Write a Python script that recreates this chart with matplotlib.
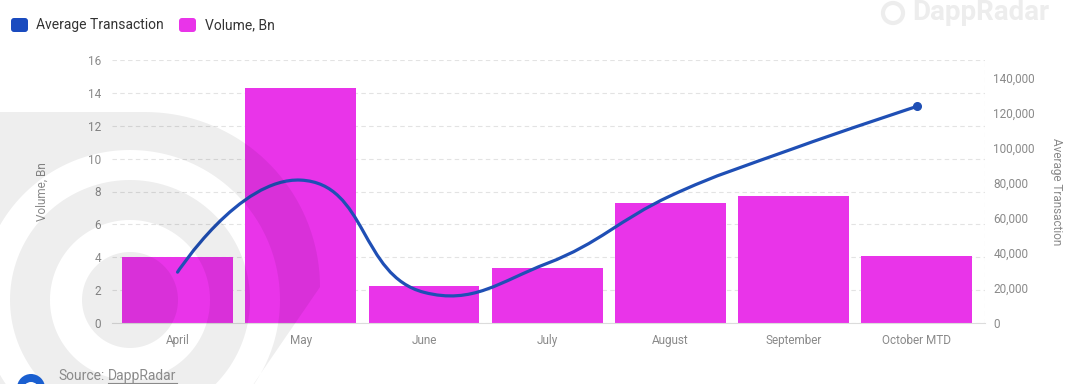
import numpy as np
import matplotlib
matplotlib.use("Agg")
import matplotlib.pyplot as plt
from matplotlib.path import Path
from matplotlib.patches import PathPatch, FancyBboxPatch, Wedge, Circle
from matplotlib.ticker import FuncFormatter

plt.rcParams['font.family'] = ['Roboto', 'DejaVu Sans']

# data
months = ["April", "May", "June", "July", "August", "September", "October MTD"]
volume_bn = [4.0, 14.3, 2.25, 3.35, 7.3, 7.7, 4.05]
avg_transaction = [29000, 81500, 17500, 34000, 72500, 99500, 123500]

BAR_COLOR = "#e934e9"
LINE_COLOR = "#1f4fb5"
GRID_COLOR = "#e3e3e3"
TEXT_GRAY = "#8a8a8a"

W, H = 1088, 384
fig = plt.figure(figsize=(W / 100, H / 100), dpi=100)

# plot area in pixels: x 112..985, y 60..323 (from top)
ax = fig.add_axes([112 / W, (H - 323) / H, (985 - 112) / W, (323 - 60) / H])
ax2 = ax.twinx()

x = np.arange(len(months))
ax.bar(x, volume_bn, width=0.9, color=BAR_COLOR, zorder=2)
ax.set_xlim(-0.532, 6.554)
ax.set_ylim(0, 16)
ax.set_yticks(range(0, 17, 2))
ax.set_xticks(x)
ax.set_xticklabels(months)
ax.grid(axis="y", color=GRID_COLOR, linestyle=(0, (4, 3)), linewidth=0.8, zorder=0)
ax.axvline(6.554, color=GRID_COLOR, linestyle=(0, (4, 3)), linewidth=0.8)
for s in ["top", "right", "left"]:
    ax.spines[s].set_visible(False)
    ax2.spines[s].set_visible(False)
ax.spines["bottom"].set_color("#dcdcdc")
ax2.spines["bottom"].set_visible(False)
ax.tick_params(axis="both", length=0, labelsize=8.5, labelcolor=TEXT_GRAY)
ax.tick_params(axis="y", pad=8)
ax.tick_params(axis="x", pad=8)
ax.set_ylabel("Volume, Bn", color=TEXT_GRAY, fontsize=8.5, labelpad=28)

ax2.set_ylim(0, 150000)
ax2.set_yticks(range(0, 140001, 20000))
ax2.yaxis.set_major_formatter(FuncFormatter(lambda v, p: f"{int(v):,}"))
ax2.tick_params(axis="y", length=0, labelsize=8.5, labelcolor=TEXT_GRAY, pad=6)
ax2.set_ylabel("Average Transaction", color=TEXT_GRAY, fontsize=8.5, rotation=270, labelpad=20)

# Highcharts-like spline, control points worked out in pixel space
pts = ax2.transData.transform(np.column_stack([x, avg_transaction]))
n = len(pts)
lc = pts.copy()
rc = pts.copy()
sm = 1.5
for i in range(1, n - 1):
    (lx, ly), (px, py), (nx, ny) = pts[i - 1], pts[i], pts[i + 1]
    lcx, lcy = (sm * px + lx) / (sm + 1), (sm * py + ly) / (sm + 1)
    rcx, rcy = (sm * px + nx) / (sm + 1), (sm * py + ny) / (sm + 1)
    dl = np.hypot(lcx - px, lcy - py)
    dr = np.hypot(rcx - px, rcy - py)
    la = np.arctan2(lcy - py, lcx - px)
    ra = np.arctan2(rcy - py, rcx - px)
    ja = np.pi / 2 + (la + ra) / 2
    if abs(la - ja) > np.pi / 2:
        ja -= np.pi
    lc[i] = (px + np.cos(ja) * dl, py + np.sin(ja) * dl)
    rc[i] = (px + np.cos(np.pi + ja) * dr, py + np.sin(np.pi + ja) * dr)

verts = [pts[0]]
codes = [Path.MOVETO]
for i in range(n - 1):
    verts += [rc[i], lc[i + 1], pts[i + 1]]
    codes += [Path.CURVE4] * 3
verts = ax2.transData.inverted().transform(np.array(verts))
ax2.add_patch(PathPatch(Path(verts, codes), fill=False, edgecolor=LINE_COLOR,
                        linewidth=2.3, capstyle="round", zorder=3))
ax2.plot(x[-1:], avg_transaction[-1:], "o", color=LINE_COLOR, markersize=5.5, zorder=4)

# overlay axes in pixel coordinates for decorations
ov = fig.add_axes([0, 0, 1, 1], zorder=10)
ov.set_xlim(0, W)
ov.set_ylim(H, 0)
ov.axis("off")


def ring(cx, cy, r, ccw=True, k=160):
    a = np.linspace(0, 2 * np.pi, k, endpoint=False)
    if not ccw:
        a = a[::-1]
    return np.column_stack([cx + r * np.cos(a), cy + r * np.sin(a)])


def rounded_box(x0, y0, x1, y1, r, k=40):
    pts_ = []
    for (cx, cy, a0) in [(x1 - r, y0 + r, -90), (x1 - r, y1 - r, 0),
                         (x0 + r, y1 - r, 90), (x0 + r, y0 + r, 180)]:
        a = np.radians(np.linspace(a0, a0 + 90, k))
        pts_.append(np.column_stack([cx + r * np.cos(a), cy + r * np.sin(a)]))
    return np.vstack(pts_)


def poly_path(polys):
    v, c = [], []
    for p in polys:
        v += list(p) + [p[0]]
        c += [Path.MOVETO] + [Path.LINETO] * (len(p) - 1) + [Path.CLOSEPOLY]
    return Path(np.array(v), c)


# faint DappRadar watermark on the left
cx, cy = 130, 300
box = rounded_box(-200, 112, 320, 600, 175)
cut = box[:, 1] > 290
box[cut, 0] = np.minimum(box[cut, 0], 320 - (box[cut, 1] - 290) * 0.7)
wm_path = poly_path([box, ring(cx, cy, 150, ccw=False),
                     ring(cx, cy, 120), ring(cx, cy, 80, ccw=False),
                     ring(cx, cy, 48)])
ov.add_patch(PathPatch(wm_path, facecolor="black", alpha=0.065, edgecolor="none"))

# faint logo top right
ov.text(912, 13, "DappRadar", fontsize=20, fontweight="bold", color="#ededed",
        ha="left", va="center")
ov.add_patch(Circle((893, 13), 10, facecolor="none", edgecolor="#ededed", linewidth=3))

# legend
ov.add_patch(FancyBboxPatch((11, 18), 17, 14, boxstyle="round,pad=0,rounding_size=3",
                            facecolor="#1a4bbf", edgecolor="none"))
ov.text(36, 25.5, "Average Transaction", fontsize=10, color="#333333", va="center")
ov.add_patch(FancyBboxPatch((179, 18), 17, 14, boxstyle="round,pad=0,rounding_size=3",
                            facecolor=BAR_COLOR, edgecolor="none"))
ov.text(205, 25.5, "Volume, Bn", fontsize=10, color="#333333", va="center")

# source line
ov.add_patch(Circle((31, 388), 14, facecolor="#1a5fd0", edgecolor="none"))
ov.add_patch(Wedge((31, 390), 8, 180, 360, width=2.5, facecolor="white", edgecolor="none"))
src = ov.text(58, 376, "Source:", fontsize=10, color=TEXT_GRAY, va="center")
renderer = fig.canvas.get_renderer()
x_link = src.get_window_extent(renderer).x1 + 4
link = ov.text(x_link, 376, "DappRadar", fontsize=10, color=TEXT_GRAY, va="center")
x_end = link.get_window_extent(renderer).x1
ov.plot([x_link, x_end], [382.5, 382.5], color=TEXT_GRAY, linewidth=0.8)

fig.savefig("out.png", dpi=100)
